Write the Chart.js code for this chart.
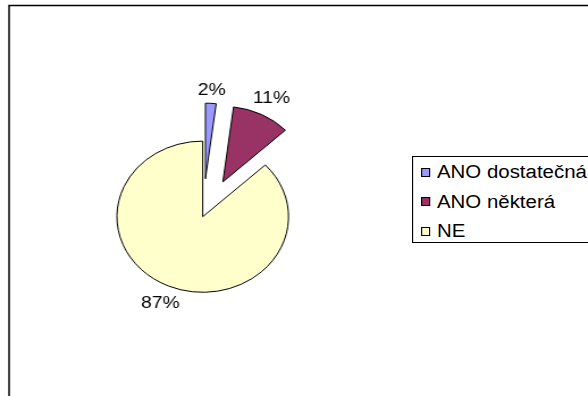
<!DOCTYPE html>
<html>
<head>
<meta charset="utf-8">
<script src="https://cdn.jsdelivr.net/npm/chart.js@4.4.1/dist/chart.umd.min.js"></script>
<style>
  html, body { margin: 0; padding: 0; background: #fff; overflow: hidden; }
  /* the whole sheet is drawn narrow and stretched sideways */
  #page { position: relative; width: 518px; height: 396px; transform: scaleX(1.135); transform-origin: 0 0; }
  #pieChart { position: absolute; left: 0; top: 0; }
  #legend {
    position: absolute; left: 363px; top: 156px; width: 240px; height: 87px;
    border: 1px solid #000; box-sizing: border-box; background: #fff;
    font: 18px "Liberation Sans", Arial, sans-serif; color: #000; white-space: nowrap;
  }
  #legend .item { position: absolute; left: 7px; height: 20px; line-height: 20px; display: flex; align-items: center; }
  #legend .swatch { width: 8px; height: 9px; border: 1px solid #000; box-sizing: border-box; margin-right: 6px; }
</style>
</head>
<body>
<div id="page">
  <canvas id="pieChart" width="518" height="396"></canvas>
  <div id="legend"></div>
</div>
<script>
const labels = ['ANO dostatečná', 'ANO některá', 'NE'];
const values = [2, 11, 87];
const colors = ['#9999FF', '#993366', '#FFFFCC'];

// how far each slice is pulled out of the pie (px)
const explode = [38, 39, 0];

// outer frame, open to the right and bottom
const framePlugin = {
  id: 'frame',
  beforeDraw(chart) {
    const ctx = chart.ctx;
    ctx.save();
    ctx.strokeStyle = '#000';
    ctx.lineWidth = 1.5;
    ctx.beginPath();
    ctx.moveTo(8, chart.height);
    ctx.lineTo(8, 5.5);
    ctx.lineTo(chart.width, 5.5);
    ctx.stroke();
    ctx.restore();
  }
};

// move exploded slices outwards along their middle angle
// (Chart.js' own offset also grows the radius, so shift the centre instead)
const explodePlugin = {
  id: 'explode',
  afterDatasetsUpdate(chart) {
    chart.getDatasetMeta(0).data.forEach((arc, i) => {
      const d = explode[i];
      if (!d) return;
      const mid = (arc.startAngle + arc.endAngle) / 2;
      arc.x += Math.cos(mid) * d;
      arc.y += Math.sin(mid) * d;
    });
  }
};

// percentage labels just outside each slice
const pieLabels = {
  id: 'pieLabels',
  afterDatasetsDraw(chart) {
    const ctx = chart.ctx;
    const meta = chart.getDatasetMeta(0);
    const data = chart.data.datasets[0].data;
    const total = data.reduce((a, b) => a + b, 0);
    ctx.save();
    ctx.font = '17px "Liberation Sans", Arial, sans-serif';
    ctx.fillStyle = '#000';
    ctx.textAlign = 'center';
    ctx.textBaseline = 'middle';
    meta.data.forEach((arc, i) => {
      const mid = (arc.startAngle + arc.endAngle) / 2;
      const text = Math.round(data[i] / total * 100) + '%';
      const w = ctx.measureText(text).width;
      const h = 12;
      const cos = Math.cos(mid), sin = Math.sin(mid);
      const r = arc.outerRadius + 6 + Math.abs(cos) * w / 2 + Math.abs(sin) * h / 2;
      ctx.fillText(text, arc.x + cos * r, arc.y + sin * r);
    });
    ctx.restore();
  }
};

const chart = new Chart(document.getElementById('pieChart'), {
  type: 'pie',
  data: {
    labels: labels,
    datasets: [{
      data: values,
      backgroundColor: colors,
      borderColor: '#000',
      borderWidth: 1
    }]
  },
  options: {
    responsive: false,
    animation: false,
    radius: 75.6,
    layout: {
      padding: { left: 0, right: 160.8, top: 37.4, bottom: 0 }
    },
    plugins: {
      legend: { display: false },
      tooltip: { enabled: false }
    }
  },
  plugins: [framePlugin, explodePlugin, pieLabels]
});

// legend built from the same arrays
const legend = document.getElementById('legend');
labels.forEach((name, i) => {
  const item = document.createElement('div');
  item.className = 'item';
  item.style.top = (5 + i * 29.5) + 'px';
  const sw = document.createElement('span');
  sw.className = 'swatch';
  sw.style.background = colors[i];
  item.appendChild(sw);
  item.appendChild(document.createTextNode(name));
  legend.appendChild(item);
});
</script>
</body>
</html>
